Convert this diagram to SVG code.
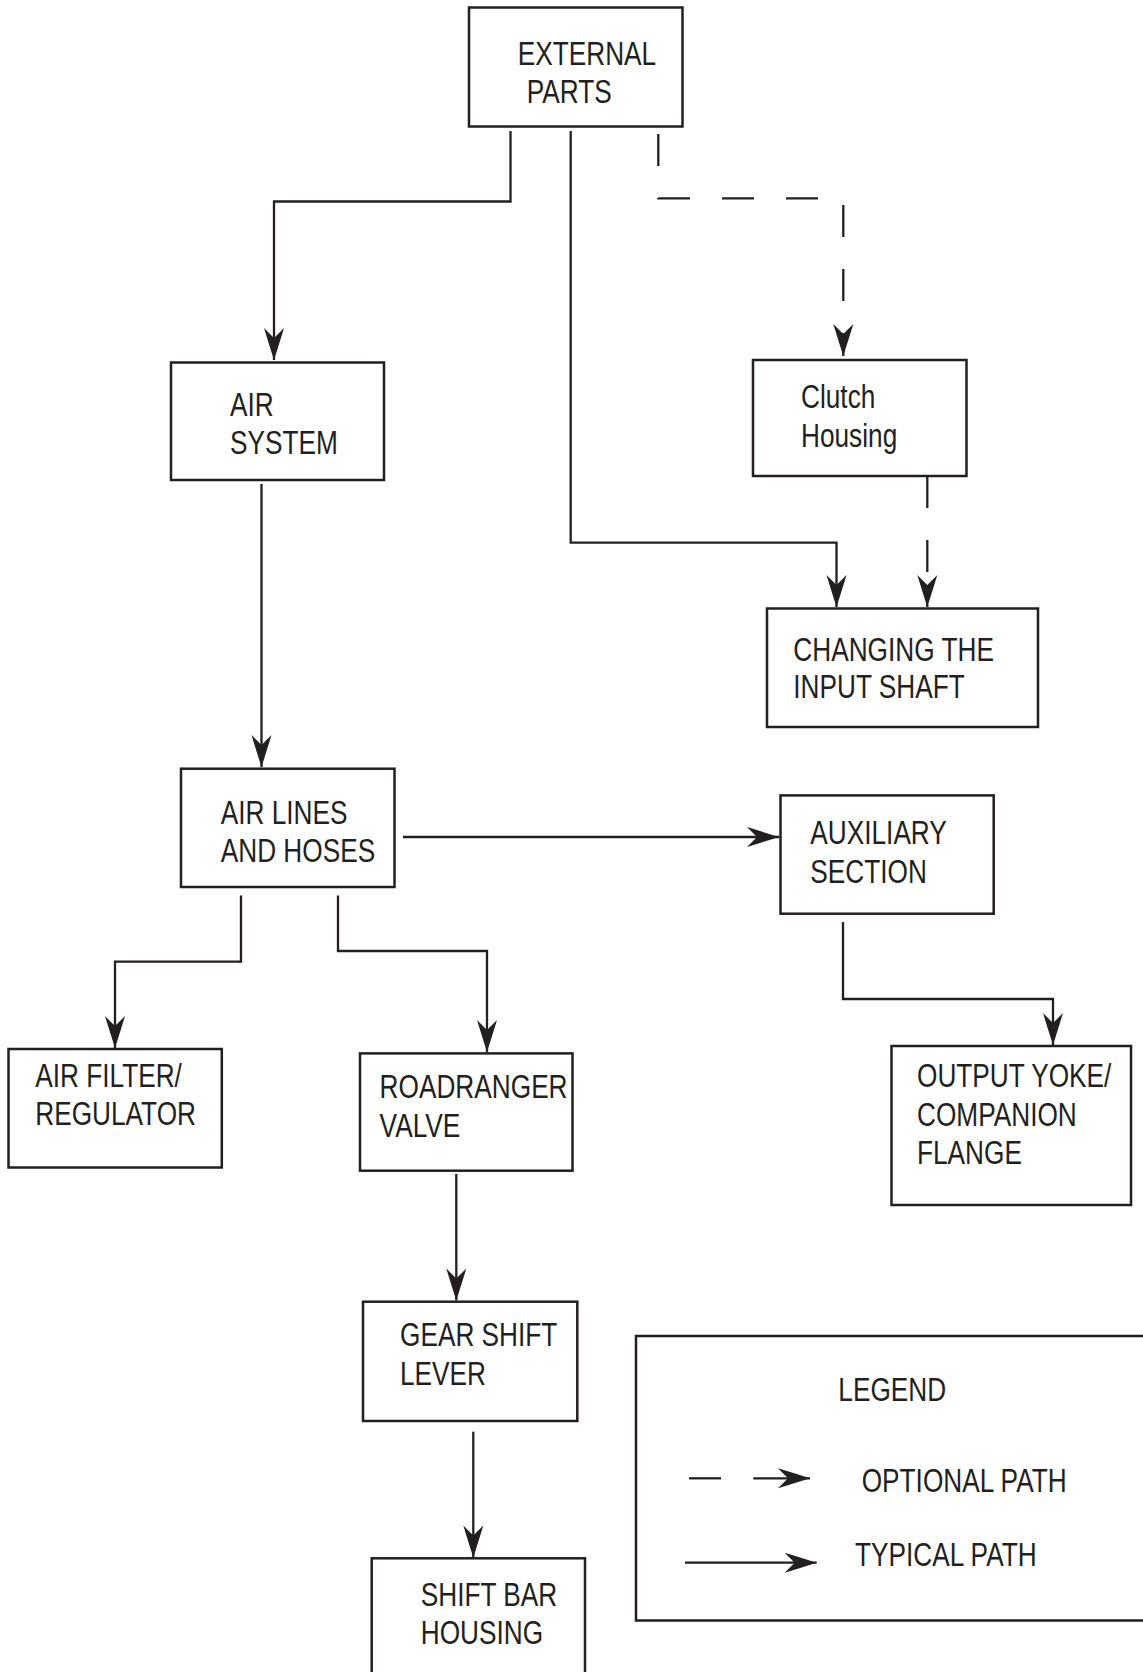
<svg xmlns="http://www.w3.org/2000/svg" width="1143" height="1672" viewBox="0 0 1143 1672">
  <style>
    .box { fill: #ffffff; stroke: #231f20; stroke-width: 2.5; }
    .lbl { font-family: "Liberation Sans", Arial, sans-serif; font-size: 33px; fill: #231f20; }
    .wire { fill: none; stroke: #231f20; stroke-width: 2.3; }
    .opt { stroke-dasharray: 32 32; }
  </style>
  <defs>
    <!-- barbed arrowhead shared by every path -->
    <marker id="arrow" markerUnits="userSpaceOnUse" markerWidth="36" markerHeight="24" viewBox="-33 -12 36 24" refX="0" refY="0" orient="auto">
      <path d="M0,0 Q-14,-4.5 -32,-10 L-22,0 L-32,10 Q-14,4.5 0,0 Z" fill="#231f20"/>
    </marker>
  </defs>
  <rect width="1143" height="1672" fill="#ffffff"/>

  <!-- connectors -->
  <g id="connectors">
    <path class="wire" d="M510.5,131 V201.5 H274 V360" marker-end="url(#arrow)"/>
    <path class="wire" d="M570.7,131 V542.7 H836.5 V607" marker-end="url(#arrow)"/>
    <path class="wire opt" d="M658.3,134 V198.3 H843.3 V356" marker-end="url(#arrow)"/>
    <path class="wire opt" d="M927.3,476 V607" marker-end="url(#arrow)"/>
    <path class="wire" d="M261.5,484 V767" marker-end="url(#arrow)"/>
    <path class="wire" d="M403,837 H779" marker-end="url(#arrow)"/>
    <path class="wire" d="M241,895.6 V961.7 H115 V1048" marker-end="url(#arrow)"/>
    <path class="wire" d="M338,895.6 V951 H487 V1052" marker-end="url(#arrow)"/>
    <path class="wire" d="M843,922 V999 H1053 V1045" marker-end="url(#arrow)"/>
    <path class="wire" d="M456.3,1174 V1300.5" marker-end="url(#arrow)"/>
    <path class="wire" d="M473.3,1431.7 V1557.5" marker-end="url(#arrow)"/>
  </g>

  <!-- labels use a horizontally condensed sans -->
  <g id="external-parts">
    <rect class="box" x="469" y="7.5" width="213.5" height="119"/>
    <text class="lbl" transform="matrix(0.795 0 0 1 517.7 65)">EXTERNAL</text>
    <text class="lbl" transform="matrix(0.795 0 0 1 526.7 103.3)">PARTS</text>
  </g>

  <g id="air-system">
    <rect class="box" x="171" y="362.5" width="213" height="117.5"/>
    <text class="lbl" transform="matrix(0.795 0 0 1 230 416)">AIR</text>
    <text class="lbl" transform="matrix(0.795 0 0 1 230 453.8)">SYSTEM</text>
  </g>

  <g id="clutch-housing">
    <rect class="box" x="753" y="360" width="213.5" height="116"/>
    <text class="lbl" transform="matrix(0.795 0 0 1 801 408.3)">Clutch</text>
    <text class="lbl" transform="matrix(0.795 0 0 1 801 446.7)">Housing</text>
  </g>

  <g id="changing-input-shaft">
    <rect class="box" x="767" y="608.5" width="271" height="118.5"/>
    <text class="lbl" transform="matrix(0.795 0 0 1 793.3 661)">CHANGING THE</text>
    <text class="lbl" transform="matrix(0.795 0 0 1 793.3 698.3)">INPUT SHAFT</text>
  </g>

  <g id="air-lines-hoses">
    <rect class="box" x="181" y="768.7" width="213.5" height="118.3"/>
    <text class="lbl" transform="matrix(0.795 0 0 1 220.7 824.2)">AIR LINES</text>
    <text class="lbl" transform="matrix(0.795 0 0 1 220.7 862)">AND HOSES</text>
  </g>

  <g id="auxiliary-section">
    <rect class="box" x="780.5" y="795.4" width="213.2" height="118.3"/>
    <text class="lbl" transform="matrix(0.795 0 0 1 810.3 844.4)">AUXILIARY</text>
    <text class="lbl" transform="matrix(0.795 0 0 1 810.3 882.8)">SECTION</text>
  </g>

  <g id="air-filter-regulator">
    <rect class="box" x="8.5" y="1049" width="213.3" height="118.5"/>
    <text class="lbl" transform="matrix(0.795 0 0 1 35.2 1086.5)">AIR FILTER/</text>
    <text class="lbl" transform="matrix(0.795 0 0 1 35.2 1125)">REGULATOR</text>
  </g>

  <g id="roadranger-valve">
    <rect class="box" x="360" y="1053.4" width="212.5" height="117.3"/>
    <text class="lbl" transform="matrix(0.795 0 0 1 379.6 1098.2)">ROADRANGER</text>
    <text class="lbl" transform="matrix(0.795 0 0 1 379.6 1137)">VALVE</text>
  </g>

  <g id="output-yoke">
    <rect class="box" x="891.5" y="1046" width="239.5" height="159"/>
    <text class="lbl" transform="matrix(0.795 0 0 1 917 1086.5)">OUTPUT YOKE/</text>
    <text class="lbl" transform="matrix(0.795 0 0 1 917 1125.5)">COMPANION</text>
    <text class="lbl" transform="matrix(0.795 0 0 1 917 1164.3)">FLANGE</text>
  </g>

  <g id="gear-shift-lever">
    <rect class="box" x="363" y="1301.7" width="214.3" height="119.3"/>
    <text class="lbl" transform="matrix(0.795 0 0 1 400 1346)">GEAR SHIFT</text>
    <text class="lbl" transform="matrix(0.795 0 0 1 400 1385)">LEVER</text>
  </g>

  <g id="shift-bar-housing">
    <rect class="box" x="371.7" y="1558.3" width="213.3" height="130"/>
    <text class="lbl" transform="matrix(0.795 0 0 1 420.7 1606)">SHIFT BAR</text>
    <text class="lbl" transform="matrix(0.795 0 0 1 420.7 1644.3)">HOUSING</text>
  </g>

  <g id="legend">
    <rect class="box" x="636" y="1336" width="530" height="284.5"/>
    <text class="lbl" transform="matrix(0.795 0 0 1 838.3 1401)">LEGEND</text>
    <line class="wire" x1="689" y1="1478.3" x2="721" y2="1478.3"/>
    <line class="wire" x1="753.3" y1="1478.3" x2="810" y2="1478.3" marker-end="url(#arrow)"/>
    <text class="lbl" transform="matrix(0.795 0 0 1 861.7 1491.7)">OPTIONAL PATH</text>
    <line class="wire" x1="685" y1="1562.7" x2="816.7" y2="1562.7" marker-end="url(#arrow)"/>
    <text class="lbl" transform="matrix(0.795 0 0 1 855 1566)">TYPICAL PATH</text>
  </g>
</svg>
